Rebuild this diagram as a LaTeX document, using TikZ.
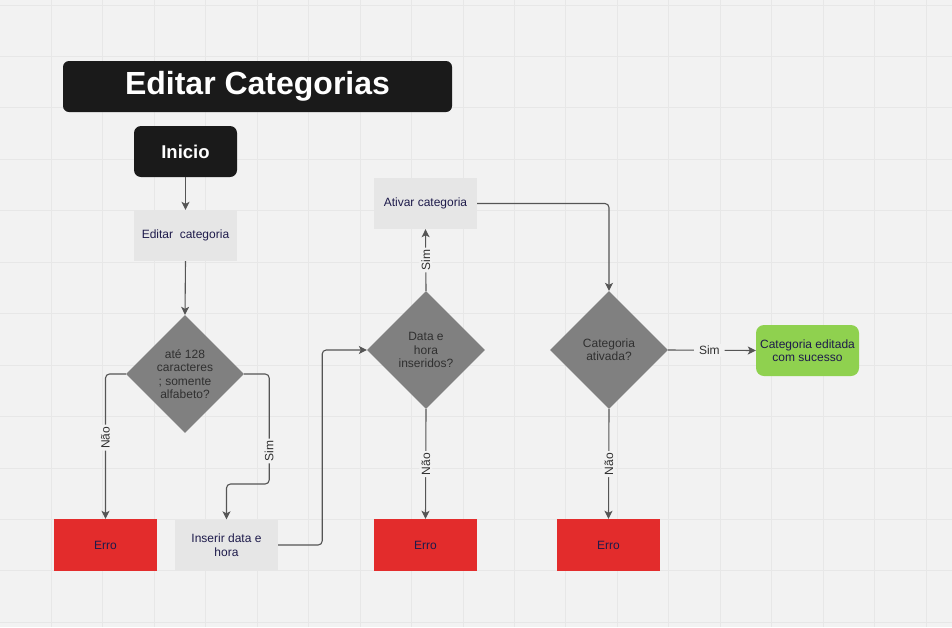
\documentclass[tikz,border=0pt]{standalone}
\usepackage{fontspec}
\setmainfont{Liberation Sans}
\usetikzlibrary{shapes.geometric,arrows.meta,calc}
\definecolor{bg}{HTML}{F2F2F2}
\definecolor{gridc}{HTML}{E7E7E7}
\definecolor{darkbox}{HTML}{1A1A1A}
\definecolor{lightbox}{HTML}{E6E6E6}
\definecolor{redbox}{HTML}{E32C2C}
\definecolor{greenbox}{HTML}{8FD14F}
\definecolor{diac}{HTML}{808080}
\definecolor{navytext}{HTML}{1E1B4B}
\definecolor{diatext}{HTML}{303030}
\definecolor{edgec}{HTML}{555555}
\tikzset{
  titlebox/.style={draw=none,fill=darkbox,rounded corners=6pt,minimum width=389pt,minimum height=51pt,text=white,font=\fontsize{32}{36}\selectfont\bfseries,inner sep=0pt},
  startbox/.style={draw=none,fill=darkbox,rounded corners=7pt,minimum width=103pt,minimum height=51pt,text=white,font=\fontsize{18.5}{22}\selectfont\bfseries,inner sep=0pt},
  procbox/.style={draw=none,fill=lightbox,minimum width=103pt,minimum height=51pt,text=navytext,font=\fontsize{12}{13.5}\selectfont,align=center,inner sep=0pt},
  errbox/.style={draw=none,fill=redbox,minimum width=103pt,minimum height=52pt,text=navytext,font=\fontsize{12}{13.5}\selectfont,align=center,inner sep=0pt},
  okbox/.style={draw=none,fill=greenbox,rounded corners=8pt,minimum width=103pt,minimum height=51pt,text=navytext,font=\fontsize{12}{13.5}\selectfont,align=center,inner sep=0pt},
  dia/.style={shape=diamond,draw=none,fill=diac,minimum width=118pt,minimum height=118pt,inner sep=0pt,aspect=1,text=diatext,font=\fontsize{12}{13.3}\selectfont,align=center},
  arr/.style={draw=edgec,line width=1.1pt,rounded corners=4pt,-{Stealth[length=8pt,width=8pt,inset=2pt]}},
  lbl/.style={fill=bg,text=diatext,font=\fontsize{12}{13}\selectfont,inner sep=2pt},
}
\begin{document}
\begin{tikzpicture}[x=1pt,y=-1pt]
\fill[bg] (0,0) rectangle (952,627);
\useasboundingbox (0,0) rectangle (952,627);
\foreach \i in {1,...,18} {\draw[gridc,line width=1pt] (\i*51.45,0) -- (\i*51.45,627);}
\foreach \j in {0,...,12} {\draw[gridc,line width=1pt] (0,5+\j*51.45) -- (952,5+\j*51.45);}

\node[titlebox] (title) at (257.5,86.5) {Editar Categorias};
\node[startbox] (inicio) at (185.5,151.5) {Inicio};
\node[procbox] (editar) at (185.5,235.5) {Editar~ categoria};
\node[dia] (d1) at (185,374) {até 128\\caracteres\\; somente\\alfabeto?};
\node[errbox] (erro1) at (105.5,545) {Erro};
\node[procbox] (inserir) at (226.5,545) {Inserir data e\\hora};
\node[dia] (d2) at (426,350) {Data e\\hora\\inseridos?};
\node[procbox] (ativar) at (425.5,203.5) {Ativar categoria};
\node[errbox] (erro2) at (425.5,545) {Erro};
\node[dia] (d3) at (609,350) {Categoria\\ativada?};
\node[errbox] (erro3) at (608.5,545) {Erro};
\node[okbox] (ok) at (807.5,350.5) {Categoria editada\\com sucesso};

\draw[arr] (inicio.south) -- (editar.north);
\draw[arr] (editar.south) -- (d1.north);
\draw[arr] (d1.west) -| node[lbl,rotate=90,pos=0.72]{Não} (erro1.north);
\draw[arr] (d1.east) -- ++(25,0) -- node[lbl,rotate=90,pos=0.7]{Sim} ++(0,110) -| (inserir.north);
\draw[arr] (inserir.east) -- ++(44,0) |- (d2.west);
\draw[arr] (d2.north) -- node[lbl,rotate=90]{Sim} (ativar.south);
\draw[arr] (d2.south) -- node[lbl,rotate=90]{Não} (erro2.north);
\draw[arr] (ativar.east) -| (d3.north);
\draw[arr] (d3.east) -- node[lbl,pos=0.47,inner xsep=5pt]{Sim} (ok.west);
\draw[arr] (d3.south) -- node[lbl,rotate=90]{Não} (erro3.north);
\end{tikzpicture}
\end{document}
